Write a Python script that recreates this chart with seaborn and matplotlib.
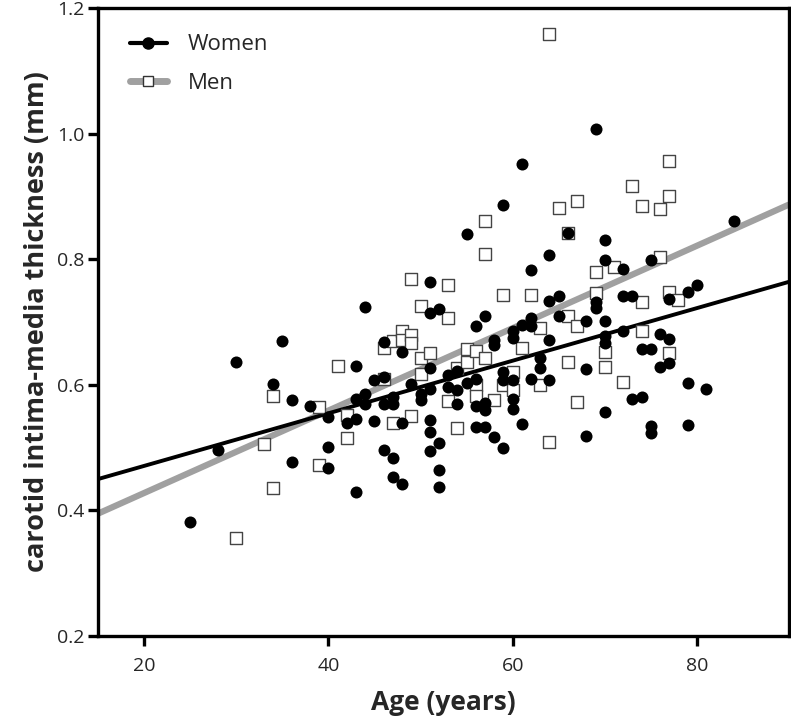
import seaborn as sns
import matplotlib.pyplot as plt
from matplotlib.lines import Line2D
import pandas as pd
import numpy as np

# ----------- DATA -----------
women_age = [25, 28, 30, 34, 35, 36, 36, 38,
             40, 40, 40, 42, 43, 43, 43, 43, 44, 44, 44, 45, 45,
             46, 46, 46, 46, 47, 47, 47, 47, 48, 48, 48, 49, 50, 50,
             51, 51, 51, 51, 51, 51, 51, 52, 52, 52, 52, 53, 53,
             54, 54, 54, 55, 55, 56, 56, 56, 56, 57, 57, 57, 57,
             58, 58, 58, 59, 59, 59, 59, 60, 60, 60, 60, 60, 61, 61, 61,
             62, 62, 62, 62, 63, 63, 64, 64, 64, 64, 65, 65, 66,
             68, 68, 68, 69, 69, 69, 70, 70, 70, 70, 70, 70,
             72, 72, 72, 73, 73, 74, 74, 75, 75, 75, 75, 76, 76,
             77, 77, 77, 79, 79, 79, 80, 81, 84]
women_imt = [0.382, 0.496, 0.637, 0.602, 0.670, 0.576, 0.477, 0.566,
             0.549, 0.501, 0.468, 0.540, 0.630, 0.577, 0.545, 0.429, 0.724, 0.586, 0.569, 0.608, 0.543,
             0.668, 0.613, 0.569, 0.497, 0.581, 0.569, 0.484, 0.454, 0.653, 0.539, 0.442, 0.602, 0.586, 0.576,
             0.763, 0.714, 0.626, 0.593, 0.544, 0.525, 0.495, 0.721, 0.508, 0.465, 0.437, 0.615, 0.597,
             0.622, 0.592, 0.569, 0.840, 0.603, 0.693, 0.609, 0.566, 0.533, 0.710, 0.571, 0.560, 0.533,
             0.671, 0.663, 0.517, 0.499, 0.886, 0.621, 0.608, 0.685, 0.674, 0.608, 0.578, 0.561, 0.952, 0.695, 0.537,
             0.783, 0.706, 0.693, 0.609, 0.642, 0.626, 0.806, 0.734, 0.671, 0.608, 0.742, 0.710, 0.842,
             0.702, 0.625, 0.518, 1.008, 0.732, 0.723, 0.831, 0.799, 0.702, 0.677, 0.666, 0.556,
             0.785, 0.742, 0.686, 0.742, 0.578, 0.657, 0.581, 0.799, 0.657, 0.534, 0.524, 0.681, 0.629,
             0.737, 0.673, 0.635, 0.747, 0.603, 0.536, 0.759, 0.593, 0.861]

men_age = [30, 33, 34, 34, 39, 39, 41, 42, 42, 46, 46, 47, 47, 48, 48,
           49, 49, 49, 49, 50, 50, 50, 51, 53, 53, 53, 54, 54, 55, 55,
           56, 56, 56, 57, 57, 57, 58, 59, 59, 60, 60, 61, 62, 63, 63,
           64, 64, 65, 66, 66, 66, 67, 67, 67, 69, 69, 70, 70, 71, 72,
           73, 74, 74, 74, 76, 76, 77, 77, 77, 77, 78]
men_imt = [0.356, 0.505, 0.582, 0.436, 0.565, 0.473, 0.630, 0.552, 0.516, 0.658, 0.609, 0.669, 0.539, 0.686, 0.671,
           0.768, 0.679, 0.667, 0.550, 0.725, 0.643, 0.617, 0.650, 0.759, 0.707, 0.575, 0.626, 0.532, 0.657, 0.637,
           0.654, 0.600, 0.582, 0.861, 0.808, 0.642, 0.576, 0.743, 0.600, 0.621, 0.591, 0.658, 0.743, 0.691, 0.599,
           1.159, 0.509, 0.881, 0.842, 0.710, 0.636, 0.892, 0.693, 0.572, 0.779, 0.746, 0.653, 0.629, 0.787, 0.605,
           0.917, 0.884, 0.732, 0.685, 0.880, 0.803, 0.957, 0.901, 0.747, 0.651, 0.735]

# regression lines (end points at the axis limits)
fit_age = [15, 90]
women_fit = [0.450, 0.764]
men_fit = [0.395, 0.887]

women = pd.DataFrame({"age": women_age, "imt": women_imt})
men = pd.DataFrame({"age": men_age, "imt": men_imt})

# ----------- PLOT -----------
sns.set_style("ticks")
plt.rcParams["font.family"] = ["Open Sans", "DejaVu Sans"]

fig = plt.figure(figsize=(7.91, 7.22), dpi=100)
ax = fig.add_axes([0.124, 0.119, 0.8735, 0.870])

ax.plot(fit_age, men_fit, color="#a0a0a0", lw=4.5, zorder=2, solid_capstyle="butt")
ax.plot(fit_age, women_fit, color="black", lw=2.8, zorder=2, solid_capstyle="butt")

sns.scatterplot(x="age", y="imt", data=men, marker="s", s=75,
                facecolor="white", edgecolor="#444444", linewidth=1.0, ax=ax, zorder=3)
sns.scatterplot(x="age", y="imt", data=women, marker="o", s=75,
                color="black", edgecolor="black", linewidth=0, ax=ax, zorder=4)

ax.set_xlim(15, 90)
ax.set_ylim(0.2, 1.2)
ax.set_xticks([20, 40, 60, 80])
ax.set_yticks([0.2, 0.4, 0.6, 0.8, 1.0, 1.2])
ax.set_yticklabels(["0.2", "0.4", "0.6", "0.8", "1.0", "1.2"])

for s in ax.spines.values():
    s.set_linewidth(2.4)
    s.set_color("black")
ax.tick_params(width=2.4, length=7, labelsize=14, color="black", direction="out")
ax.tick_params(axis="x", pad=8)
ax.tick_params(axis="y", pad=3)

ax.set_xlabel("Age (years)", fontsize=19, fontweight="bold", labelpad=10)
ax.set_ylabel("carotid intima-media thickness (mm)", fontsize=19.5, fontweight="bold", labelpad=5)

handles = [
    Line2D([], [], color="black", lw=3, marker="o", markersize=8, markerfacecolor="black"),
    Line2D([], [], color="#a0a0a0", lw=5, marker="s", markersize=7,
           markerfacecolor="white", markeredgecolor="#333333", markeredgewidth=1),
]
ax.legend(handles, ["Women", "Men"], loc="upper left", frameon=False, fontsize=16,
          handlelength=1.67, borderaxespad=0, borderpad=0, labelspacing=0.78,
          handletextpad=0.95, bbox_to_anchor=(0.046, 0.958))

plt.savefig("out.png", dpi=100)
